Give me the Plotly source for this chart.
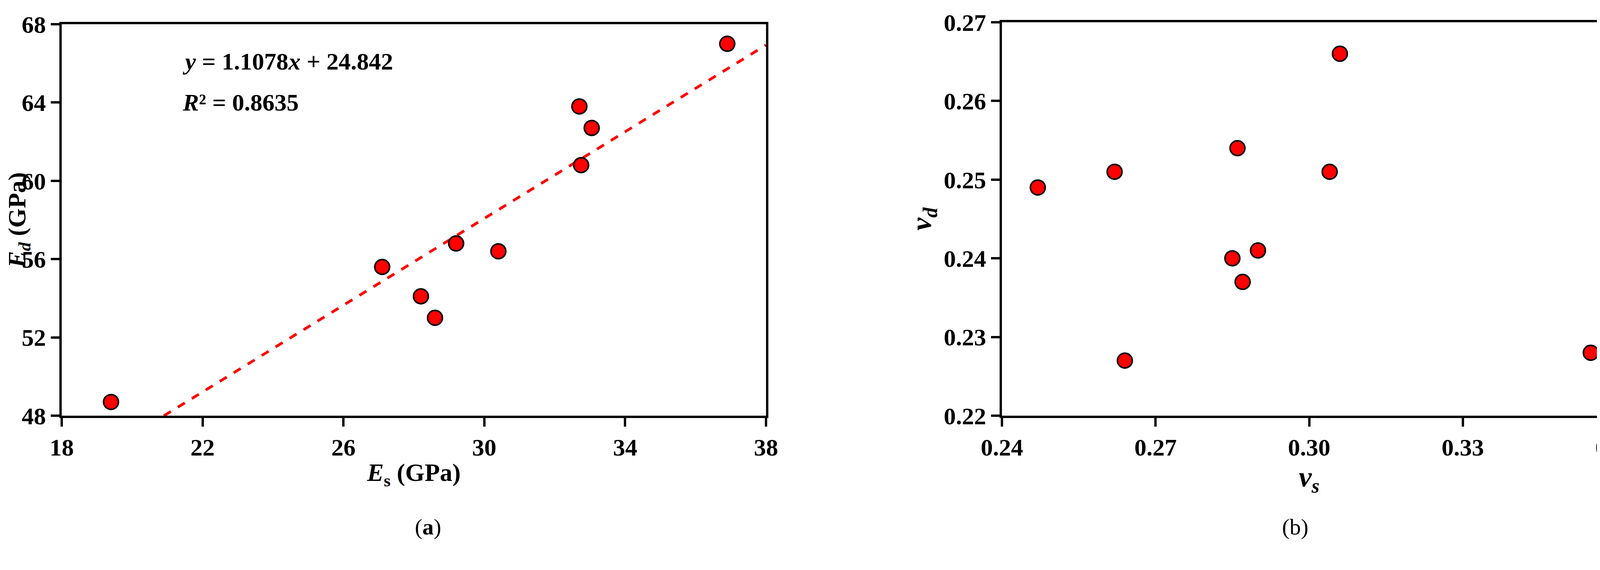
import plotly.graph_objects as go

es = [19.4, 27.1, 28.2, 28.6, 29.2, 30.4, 32.7, 32.75, 33.05, 36.9]
ed = [48.7, 55.6, 54.1, 53.0, 56.8, 56.4, 63.8, 60.8, 62.7, 67.0]
fit_x = [20.9, 38.0]
slope, intercept = 1.1078, 24.842
vs = [0.247, 0.262, 0.264, 0.285, 0.286, 0.287, 0.290, 0.304, 0.306, 0.355]
vd = [0.249, 0.251, 0.227, 0.240, 0.254, 0.237, 0.241, 0.251, 0.266, 0.228]

F = "Liberation Serif"
fig = go.Figure()
mk = dict(size=38, color="#ff0000", line=dict(color="black", width=4))
fig.add_trace(go.Scatter(x=fit_x, y=[slope*x+intercept for x in fit_x], mode="lines",
                         line=dict(color="#ff0000", width=7, dash="dash"), xaxis="x", yaxis="y"))
fig.add_trace(go.Scatter(x=es, y=ed, mode="markers", marker=mk, xaxis="x", yaxis="y"))
fig.add_trace(go.Scatter(x=vs, y=vd, mode="markers", marker=mk, xaxis="x2", yaxis="y2"))

ax = dict(showgrid=False, zeroline=False, showline=True, linecolor="black", linewidth=6,
          mirror=True, ticks="outside", ticklen=22, tickwidth=6, tickcolor="black", automargin=False,
          tickfont=dict(family=F, size=62, color="black"))
TF = dict(family=F, size=64, color="black")
W, H = 4266, 1459
fig.update_layout(
    width=W, height=H, showlegend=False, plot_bgcolor="white", paper_bgcolor="white",
    margin=dict(l=0, r=0, t=0, b=0),
    xaxis=dict(ax, domain=[150/W, 1953/W], range=[18, 38], tickvals=[18,22,26,30,34,38],
               ticktext=["<b>%d</b>" % v for v in [18,22,26,30,34,38]], anchor="y",
               title=dict(text="<b><i>E</i><sub>s</sub> (GPa)</b>", font=TF, standoff=10)),
    yaxis=dict(ax, domain=[1-1056/H, 1-54/H], range=[48, 68], tickvals=[48,52,56,60,64,68],
               ticktext=["<b>%d</b>" % v for v in [48,52,56,60,64,68]], anchor="x",
               title=dict(text="<b><i>E<sub>d</sub></i> (GPa)</b>", font=TF, standoff=10)),
    xaxis2=dict(ax, domain=[2557/W, 4130/W], range=[0.24, 0.36], tickvals=[0.24,0.27,0.30,0.33,0.36],
                ticktext=["<b>%.2f</b>" % v for v in [0.24,0.27,0.30,0.33,0.36]], anchor="y2",
                title=dict(text="<b><i>v<sub>s</sub></i></b>", font=dict(TF, size=74), standoff=10)),
    yaxis2=dict(ax, domain=[1-1056/H, 1-49/H], range=[0.22, 0.27], tickvals=[0.22,0.23,0.24,0.25,0.26,0.27],
                ticktext=["<b>%.2f</b>" % v for v in [0.22,0.23,0.24,0.25,0.26,0.27]], anchor="x2",
                title=dict(text="<b><i>v<sub>d</sub></i></b>", font=dict(TF, size=74), standoff=10)),
    annotations=[
        dict(x=21.4, y=66.1, xref="x", yref="y", xanchor="left", showarrow=False,
             text="<b><i>y</i> = 1.1078<i>x</i> + 24.842</b>", font=dict(family=F, size=62, color="black")),
        dict(x=21.4, y=64.0, xref="x", yref="y", xanchor="left", showarrow=False,
             text="<b><i>R</i>² = 0.8635</b>", font=dict(family=F, size=62, color="black")),
        dict(x=(150+1953)/2/W, y=1-1375/H, xref="paper", yref="paper", showarrow=False,
             text="(<b>a</b>)", font=dict(family=F, size=58, color="black")),
        dict(x=(2557+4130)/2/W, y=1-1375/H, xref="paper", yref="paper", showarrow=False,
             text="(b)", font=dict(family=F, size=58, color="black")),
    ])
fig.write_html("out.html")
